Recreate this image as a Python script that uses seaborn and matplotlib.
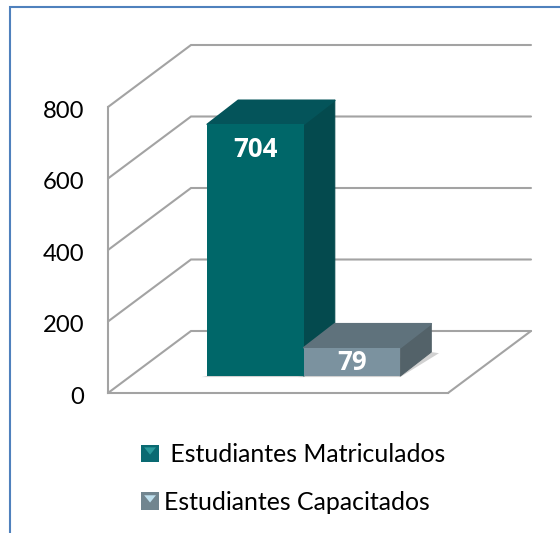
import matplotlib
matplotlib.use("Agg")
import matplotlib.pyplot as plt
import seaborn as sns
from matplotlib.lines import Line2D
from matplotlib.patches import Polygon, Rectangle
from matplotlib.legend_handler import HandlerBase
from matplotlib.transforms import ScaledTranslation

categories = ["Estudiantes Matriculados", "Estudiantes Capacitados"]
values = [704, 79]
ticks = [0, 200, 400, 600, 800]
legend_labels = [" Estudiantes Matriculados", "Estudiantes Capacitados"]

front = ["#006769", "#7b929f"]
top = ["#04545a", "#5f727c"]
side = ["#044a4e", "#536269"]
GRID = "#a3a3a3"
FS = 17.2

W, H = 560, 533
sns.set_theme(style="white", rc={"font.family": ["Lato", "DejaVu Sans"]})
fig = plt.figure(figsize=(W / 100, H / 100), dpi=100, facecolor="white")
ax = fig.add_axes([108 / W, (H - 393) / H, 340 / W, 286 / H], facecolor="none")

# pixel scale of the data axes
PX_X = 96.5
PX_Y = 286 / 800
BASE = 17 / PX_Y  # bars stand mid-way on the floor
WALL = (83 / PX_X, 62 / PX_Y)
DEPTH = (31 / PX_X, 24 / PX_Y)

sns.barplot(x=categories, y=values, hue=categories, palette=front, width=1, saturation=1,
            dodge=False, legend=False, bottom=BASE, linewidth=0, ax=ax)
x0, x1 = (108 - 255.5) / PX_X, (448 - 255.5) / PX_X
ax.set_xlim(x0, x1)
ax.set_ylim(0, 800)
ax.set_xticks([])
ax.set_yticks(ticks)
ax.set_yticklabels([str(t) for t in ticks], fontsize=FS, color="#000000")
ax.tick_params(axis="y", length=0, pad=17)
shift = ScaledTranslation(0, -2.5 / 100, fig.dpi_scale_trans)
for lab in ax.get_yticklabels():
    lab.set_transform(lab.get_transform() + shift)
ax.set_xlabel("")
ax.set_ylabel("")
for s in ["top", "right"]:
    ax.spines[s].set_visible(False)
for s in ["left", "bottom"]:
    ax.spines[s].set_color(GRID)
    ax.spines[s].set_linewidth(1.5)
    ax.spines[s].set_zorder(1)

# wall gridlines
for t in ticks:
    ax.plot([x0, x0 + WALL[0], x1 + WALL[0]], [t, t + WALL[1], t + WALL[1]],
            color=GRID, lw=1.5, clip_on=False, zorder=1, solid_joinstyle="miter")
ax.plot([x1, x1 + WALL[0]], [0, WALL[1]], color=GRID, lw=1.5, clip_on=False, zorder=1)

# bar depth faces
bars = list(ax.patches)
label_drop = [25, 15]
for i, (bar, v) in enumerate(zip(bars, values)):
    l, r = bar.get_x(), bar.get_x() + bar.get_width()
    b, t = BASE, BASE + v
    z = 3 + i
    bar.set_zorder(z + 0.2)
    bar.set_clip_on(False)
    dx, dy = DEPTH
    ax.add_patch(Polygon([(l - .06, b - 3), (r, b - 3), (r + dx * 1.25, b + dy * .95), (r + dx, b + dy)],
                         closed=True, fc="#9a9a9a", ec="none", alpha=.45, clip_on=False, zorder=2))
    ax.add_patch(Polygon([(r, b), (r + dx, b + dy), (r + dx, t + dy), (r, t)], closed=True,
                         fc=side[i], ec=side[i], lw=.8, joinstyle="round", clip_on=False, zorder=z))
    ax.add_patch(Polygon([(l, t), (l + dx, t + dy), (r + dx, t + dy), (r, t)], closed=True,
                         fc=top[i], ec=top[i], lw=1.2, joinstyle="round", clip_on=False, zorder=z + .1))
    ax.annotate(str(v), (bar.get_x() + bar.get_width() / 2, t), xytext=(0, -label_drop[i] * .72),
                textcoords="offset points", ha="center", va="center", color="white",
                fontsize=18.6, fontweight="bold", family=["Open Sans", "DejaVu Sans"],
                zorder=z + .5, annotation_clip=False)


class Swatch(HandlerBase):
    def create_artists(self, legend, orig, xd, yd, w, h, fontsize, trans):
        col, lit = orig.get_facecolor(), orig.get_edgecolor()
        s = 12.5
        x, y = (w - s) / 2 - xd, (h - s) / 2 - yd
        a = Rectangle((x, y), s, s, fc=col, ec="none", transform=trans)
        c = Polygon([(x + 2, y + s - 2), (x + s - 2, y + s - 2), (x + s / 2, y + s / 2 - 1)],
                    closed=True, fc=lit, ec="none", transform=trans)
        return [a, c]


handles = [Rectangle((0, 0), 1, 1, fc="#0a6a72", ec="#2a9a9c"),
           Rectangle((0, 0), 1, 1, fc="#71858f", ec="#bfe0ee")]
leg = fig.legend(handles, legend_labels, handler_map={Rectangle: Swatch()},
                 loc="upper left", bbox_to_anchor=(137 / W, 1 - 443 / H), frameon=False,
                 fontsize=17.9, labelspacing=1.0, handlelength=1.05, handletextpad=.02,
                 borderpad=0, borderaxespad=0, labelcolor="#000000")

# blue outer frame
BLUE = "#4f81bd"
fig.add_artist(Line2D([9.5 / W, 9.5 / W, 1], [0, 1 - 6.5 / H, 1 - 6.5 / H], color=BLUE, lw=1.5,
                      solid_joinstyle="miter", transform=fig.transFigure))
fig.savefig("out.png", dpi=100)
